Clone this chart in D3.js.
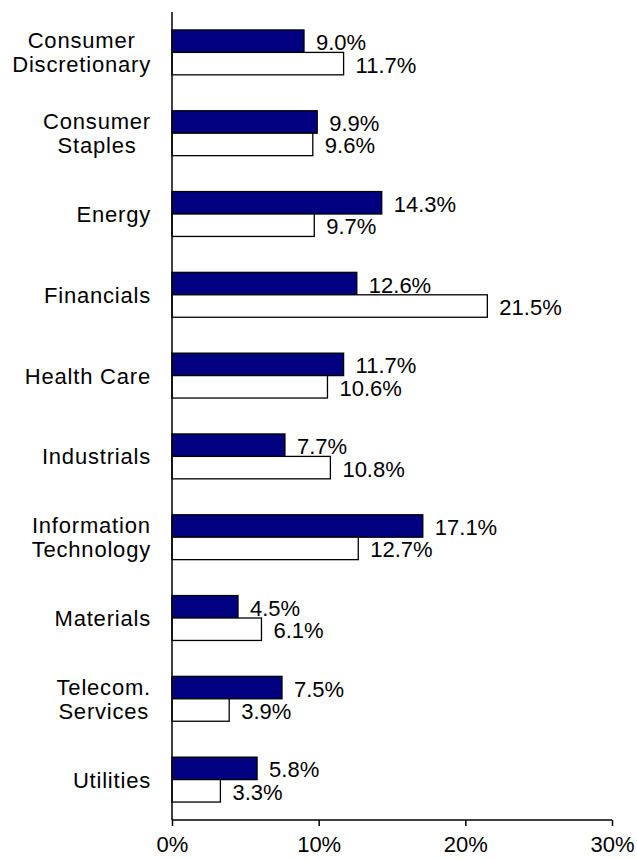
<!DOCTYPE html>
<html>
<head>
<meta charset="utf-8">
<script src="https://cdn.jsdelivr.net/npm/d3@7"></script>
<style>
  html, body { margin: 0; padding: 0; background: #fff; }
  svg { display: block; }
  text { font-family: "Liberation Sans", Arial, sans-serif; fill: #000; }
</style>
</head>
<body>
<svg id="chart" width="637" height="859"></svg>
<script>
// Sector weights (%), portfolio vs. benchmark
const sectors = [
  ["Consumer", "Discretionary"],
  ["Consumer", "Staples"],
  ["Energy"],
  ["Financials"],
  ["Health Care"],
  ["Industrials"],
  ["Information", "Technology"],
  ["Materials"],
  ["Telecom.", "Services"],
  ["Utilities"]
];
const portfolio = [9.0, 9.9, 14.3, 12.6, 11.7, 7.7, 17.1, 4.5, 7.5, 5.8];
const benchmark = [11.7, 9.6, 9.7, 21.5, 10.6, 10.8, 12.7, 6.1, 3.9, 3.3];
const xTicks = [0, 10, 20, 30];
const seriesKeys = ["portfolio", "benchmark"];
const seriesFill = { portfolio: "#000080", benchmark: "#ffffff" };

const svg = d3.select("#chart");
const fontSize = 22;

const rows = sectors.map((s, i) => ({
  key: s.join(" "),
  lines: s,
  portfolio: portfolio[i],
  benchmark: benchmark[i]
}));

const x = d3.scaleLinear().domain([0, 30]).range([172, 612]);
const y = d3.scaleBand().domain(rows.map(d => d.key)).range([12, 820]).padding(0);
const ySub = d3.scaleBand().domain(seriesKeys).range([0, y.bandwidth()])
  .paddingInner(0).paddingOuter(0.8);

// Bars and value labels
const groups = svg.append("g").selectAll("g").data(rows).join("g")
  .attr("transform", d => `translate(0,${y(d.key)})`);

groups.selectAll("rect")
  .data(d => seriesKeys.map(k => ({ k, v: d[k] })))
  .join("rect")
  .attr("x", x(0))
  .attr("y", d => ySub(d.k))
  .attr("width", d => x(d.v) - x(0))
  .attr("height", ySub.bandwidth())
  .attr("fill", d => seriesFill[d.k])
  .attr("stroke", "#000")
  .attr("stroke-width", 1.3);

groups.selectAll("text.val")
  .data(d => seriesKeys.map(k => ({ k, v: d[k] })))
  .join("text")
  .attr("class", "val")
  .attr("x", d => x(d.v) + 12)
  .attr("y", d => ySub(d.k) + ySub.bandwidth() / 2 + 9)
  .attr("font-size", fontSize)
  .text(d => d3.format(".1f")(d.v) + "%");

// Category labels: block right-aligned, lines centred within it
const labelRight = 151;
const lineGap = 24;
groups.each(function(d) {
  const g = d3.select(this);
  const lab = g.append("text")
    .attr("font-size", fontSize)
    .attr("letter-spacing", 0.8)
    .attr("text-anchor", "middle");
  const n = d.lines.length;
  const c = y.bandwidth() / 2;
  const spans = d.lines.map((line, j) =>
    lab.append("tspan")
      .attr("y", c + (j - (n - 1) / 2) * lineGap + 8)
      .text(line));
  const w = d3.max(spans.map(s => s.node().getComputedTextLength()));
  spans.forEach(s => s.attr("x", labelRight - w / 2));
});

// Vertical category axis line
svg.append("line")
  .attr("x1", x(0)).attr("x2", x(0))
  .attr("y1", 12).attr("y2", 820)
  .attr("stroke", "#000").attr("stroke-width", 1.5);

// Bottom value axis
const xAxis = svg.append("g")
  .attr("transform", "translate(0,820)")
  .call(d3.axisBottom(x).tickValues(xTicks).tickFormat(d => d + "%").tickSize(6).tickPadding(10));
xAxis.select(".domain").attr("stroke", "#000").attr("stroke-width", 1.5).attr("d", `M${x(0)},0H${x(30)}`);
xAxis.selectAll(".tick line").attr("stroke", "#000").attr("stroke-width", 1.5);
xAxis.selectAll(".tick text")
  .attr("font-size", fontSize)
  .attr("font-family", "'Liberation Sans', Arial, sans-serif")
  .attr("fill", "#000");
</script>
</body>
</html>
